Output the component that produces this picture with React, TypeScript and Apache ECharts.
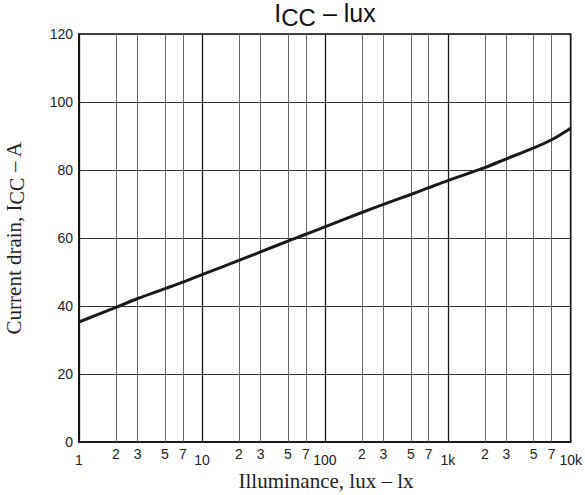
import React, { useEffect, useRef } from "react";
import * as echarts from "echarts";

const illuminance = [1, 2, 3, 5, 7, 10, 20, 30, 50, 70, 100, 200, 300, 500, 700, 1000, 2000, 3000, 5000, 7000, 10000];
const currentDrain = [35.3, 39.6, 42.2, 45.1, 47.0, 49.2, 53.4, 55.9, 59.1, 61.1, 63.3, 67.5, 69.9, 72.8, 74.8, 76.9, 80.7, 83.3, 86.5, 88.9, 92.3];

const majorTicks = [1, 10, 100, 1000, 10000];
const majorTickLabels = ["1", "10", "100", "1k", "10k"];
const minorTicks = [2, 3, 5, 7, 20, 30, 50, 70, 200, 300, 500, 700, 2000, 3000, 5000, 7000];
const minorTickLabels = ["2", "3", "5", "7", "2", "3", "5", "7", "2", "3", "5", "7", "2", "3", "5", "7"];

const yMin = 0;
const yMax = 120;
const yInterval = 20;

const SANS = "'Liberation Sans', Arial, sans-serif";
const SERIF = "'Liberation Serif', 'Times New Roman', serif";

export default function App() {
  const ref = useRef<HTMLDivElement>(null);
  useEffect(() => {
    if (!ref.current) return;
    const chart = echarts.init(ref.current, undefined, { renderer: "svg" });
    chart.setOption({
      animation: false,
      backgroundColor: "#fff",
      grid: {
        left: 79,
        right: 14,
        top: 34,
        bottom: 53,
        show: true,
        borderColor: "#111",
        borderWidth: 1.5,
        backgroundColor: "transparent",
      },
      xAxis: {
        type: "log",
        logBase: 10,
        min: 1,
        max: 10000,
        splitNumber: 4,
        axisLine: { show: true, lineStyle: { color: "#111", width: 1.5 } },
        axisTick: { show: false },
        splitLine: { show: true, lineStyle: { color: "#1a1a1a", width: 1.3 } },
        axisLabel: {
          margin: 11,
          fontFamily: SANS,
          fontSize: 14,
          color: "#222",
          formatter: (v: number) => {
            const i = majorTicks.findIndex((t) => Math.abs(t - v) / t < 1e-6);
            return i >= 0 ? majorTickLabels[i] : "";
          },
        },
      },
      yAxis: {
        type: "value",
        min: yMin,
        max: yMax,
        interval: yInterval,
        axisLine: { show: true, lineStyle: { color: "#111", width: 1.5 } },
        axisTick: { show: false },
        splitLine: { show: true, lineStyle: { color: "#333", width: 1.2 } },
        axisLabel: {
          margin: 6,
          fontFamily: SANS,
          fontSize: 14,
          color: "#222",
        },
      },
      graphic: [
        {
          type: "text",
          x: 325,
          y: 15,
          style: {
            text: "{a|I}{b|CC}{a| – lux}",
            align: "center",
            verticalAlign: "middle",
            textAlign: "center",
            textVerticalAlign: "middle",
            fill: "#111",
            rich: {
              a: { fontFamily: SANS, fontSize: 25, fill: "#111", padding: [0, 0, 4, 0] },
              b: { fontFamily: SANS, fontSize: 24, fill: "#111", padding: [4, 0, 0, 0] },
            },
          },
        },
        {
          type: "text",
          x: 326,
          y: 481,
          style: {
            text: "Illuminance, lux – lx",
            align: "center",
            verticalAlign: "middle",
            textAlign: "center",
            textVerticalAlign: "middle",
            font: `21px ${SERIF}`,
            fill: "#222",
          },
        },
        {
          type: "text",
          x: 15,
          y: 238,
          rotation: Math.PI / 2,
          style: {
            text: "{a|Current drain, I}{b|CC}{a| – A}",
            align: "center",
            verticalAlign: "middle",
            textAlign: "center",
            textVerticalAlign: "middle",
            fill: "#222",
            rich: {
              a: { fontFamily: SERIF, fontSize: 21, fill: "#222", padding: [0, 0, 3, 0] },
              b: { fontFamily: SERIF, fontSize: 20, fill: "#222", padding: [3, 0, 0, 0] },
            },
          },
        },
      ],
      series: [
        {
          type: "line",
          data: illuminance.map((x, i) => [x, currentDrain[i]]),
          smooth: 0.3,
          showSymbol: false,
          symbol: "none",
          lineStyle: { color: "#1a1a1a", width: 3 },
          z: 5,
          markLine: {
            silent: true,
            symbol: "none",
            animation: false,
            lineStyle: { color: "#666", width: 1, type: "solid" },
            label: {
              show: true,
              position: "start",
              distance: 5,
              fontFamily: SANS,
              fontSize: 14,
              color: "#222",
            },
            data: minorTicks.map((v, i) => ({
              xAxis: v,
              label: { formatter: minorTickLabels[i] },
            })),
          },
        },
      ],
    });
    return () => chart.dispose();
  }, []);
  return (
    <div
      ref={ref}
      style={{ position: "fixed", left: 0, top: 0, width: 585, height: 495 }}
    />
  );
}
